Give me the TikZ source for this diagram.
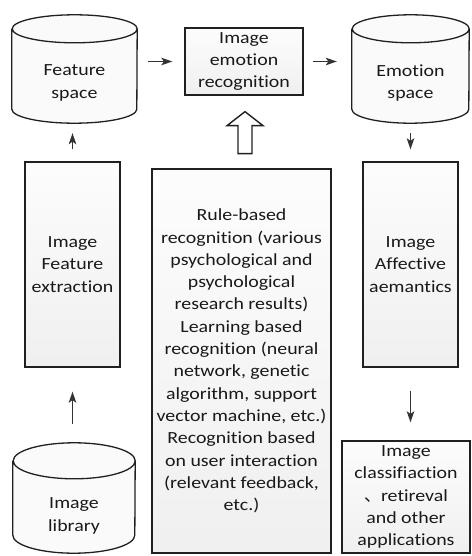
\documentclass[tikz,border=0pt]{standalone}
\usepackage{fontspec}
\setmainfont{Carlito}[FakeStretch=1.17,Ligatures={NoCommon}]
\newfontfamily\cjk{Noto Sans CJK SC}
\usetikzlibrary{arrows.meta,backgrounds}

\tikzset{
  box/.style={draw=gray!25!black, line width=1.3pt, top color=gray!2, bottom color=gray!12,
    align=center, inner sep=0pt, text=black!90},
  dbtext/.style={align=center, inner sep=0pt, text=black!90},
  dbline/.style={draw=gray!25!black, line width=1.3pt},
  link/.style={-{Stealth[length=11pt,width=7.5pt,inset=2.5pt]}, line width=1.6pt, black!80}
}
% cylinder round a named node: #1 name, #2 x radius, #3 y radius
\newcommand{\cylout}[3]{%
  \begin{scope}[on background layer]
  \fill[gray!4] ([yshift=#3pt]#1.north west) -- ([yshift=#3pt]#1.south west)
    arc[start angle=180, end angle=360, x radius=#2pt, y radius=#3pt]
    -- ([yshift=#3pt]#1.north east)
    arc[start angle=0, end angle=180, x radius=#2pt, y radius=#3pt] -- cycle;
  \draw[dbline] ([yshift=#3pt]#1.north west) -- ([yshift=#3pt]#1.south west)
    arc[start angle=180, end angle=360, x radius=#2pt, y radius=#3pt]
    -- ([yshift=#3pt]#1.north east)
    arc[start angle=0, end angle=180, x radius=#2pt, y radius=#3pt]
    arc[start angle=180, end angle=360, x radius=#2pt, y radius=#3pt];
  \end{scope}
}

\begin{document}
\begin{tikzpicture}[x=1pt,y=-1pt,font=\fontsize{17}{22.3}\selectfont]
    \useasboundingbox (0,0) rectangle (471,556);
    % top row
    \node[dbtext, minimum width=125pt, minimum height=80pt] (fs) at (74.5,83) {Feature\\space};
    \cylout{fs}{62.5}{14}
    \node[box, minimum width=118pt, minimum height=67pt] (rec) at (244,61.5) {Image\\emotion\\recognition};
    \node[dbtext, minimum width=117pt, minimum height=80pt] (es) at (410.5,83) {Emotion\\space};
    \cylout{es}{58.5}{14}
    % middle row
    \node[box, minimum width=95pt, minimum height=205pt] (fe) at (72.5,264.5) {Image\\Feature\\extraction};
    \node[box, minimum width=179pt, minimum height=384pt] (rules) at (241.5,361) {Rule-based\\recognition (various\\psychological and\\psychological\\research results)\\Learning based\\recognition (neural\\network, genetic\\algorithm, support\\vector machine, etc.)\\Recognition based\\on user interaction\\(relevant feedback,\\etc.)};
    \node[box, minimum width=95pt, minimum height=205pt] (aff) at (410.5,264.5) {Image\\Affective\\aemantics};
    % bottom row
    \node[dbtext, minimum width=122pt, minimum height=74pt] (lib) at (74,516) {Image\\library};
    \cylout{lib}{61}{18}
    \node[box, minimum width=128pt, minimum height=112pt] (app) at (406,497) {Image\\classifiaction\\{\cjk 、}retireval\\and other\\applications};
    % arrows
    \draw[link, shorten <=11pt, shorten >=12pt] (rec.west -| fs.east) -- (rec.west);
    \draw[link, shorten <=9pt, shorten >=15pt] (rec.east) -- (rec.east -| es.west);
    \draw[link, shorten <=12pt, shorten >=10pt] (fe.north) -- (fe.north |- fs.south);
    \draw[link, shorten <=55pt, shorten >=24pt] (lib.north -| fe.south) -- (fe.south);
    \draw[link, shorten <=10pt, shorten >=12pt] (es.south) -- (es.south |- aff.north);
    \draw[link, shorten <=23pt, shorten >=18pt] (aff.south) -- (aff.south |- app.north);
    \draw[line width=1.4pt, draw=gray!25!black, fill=white]
      ([shift={(1,16)}]rec.south) -- ([shift={(19,30)}]rec.south) -- ([shift={(8,30)}]rec.south)
      -- ([shift={(8,58)}]rec.south) -- ([shift={(-6,58)}]rec.south) -- ([shift={(-6,30)}]rec.south)
      -- ([shift={(-17,30)}]rec.south) -- cycle;
\end{tikzpicture}
\end{document}
